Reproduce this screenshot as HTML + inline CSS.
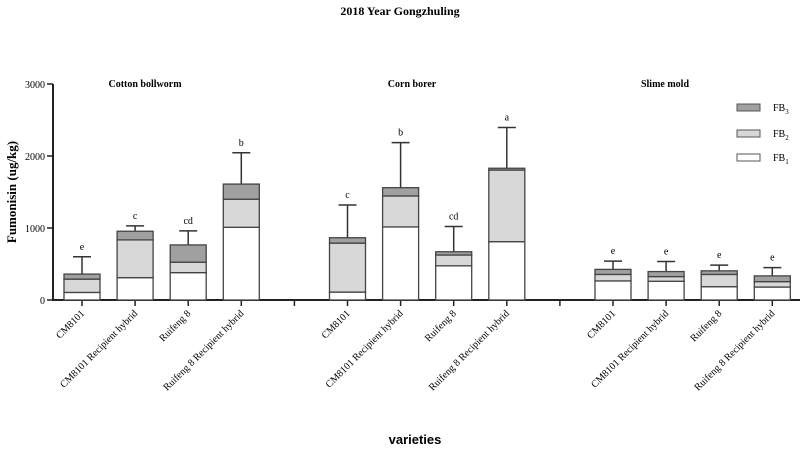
<!DOCTYPE html>
<html><head><meta charset="utf-8"><style>
body{margin:0;background:#fff;}
svg text{font-family:"Liberation Serif",serif;}
</style></head><body>
<svg width="800" height="451" viewBox="0 0 800 451" id="chart">
<text x="400" y="15" text-anchor="middle" font-weight="bold" font-size="12">2018 Year Gongzhuling</text>
<text x="145" y="87" text-anchor="middle" font-weight="bold" font-size="10">Cotton bollworm</text>
<text x="412" y="87" text-anchor="middle" font-weight="bold" font-size="10">Corn borer</text>
<text x="665" y="87" text-anchor="middle" font-weight="bold" font-size="10">Slime mold</text>
<text transform="translate(16,192) rotate(-90)" text-anchor="middle" font-weight="bold" font-size="13">Fumonisin (ug/kg)</text>
<text x="415" y="444" text-anchor="middle" font-weight="bold" font-size="13" style="font-family:'Liberation Sans',sans-serif">varieties</text>
<g id="legend">
<rect x="737" y="104" width="23" height="7" fill="#a0a0a0" stroke="#555"/>
<text x="773" y="111" font-size="10">FB<tspan font-size="7" dy="3">3</tspan></text>
<rect x="737" y="130" width="23" height="7" fill="#d8d8d8" stroke="#555"/>
<text x="773" y="137" font-size="10">FB<tspan font-size="7" dy="3">2</tspan></text>
<rect x="737" y="154" width="23" height="7" fill="#fff" stroke="#555"/>
<text x="773" y="161" font-size="10">FB<tspan font-size="7" dy="3">1</tspan></text>
</g>
<g id="plot"></g>
</svg>
<script>
const categories=["CM8101","CM8101 Recipient hybrid","Ruifeng 8","Ruifeng 8 Recipient hybrid","","CM8101","CM8101 Recipient hybrid","Ruifeng 8","Ruifeng 8 Recipient hybrid","","CM8101","CM8101 Recipient hybrid","Ruifeng 8","Ruifeng 8 Recipient hybrid"];
const fb1=[105,310,380,1010,null,110,1015,475,810,null,265,260,185,180];
const fb2=[185,525,145,390,null,680,430,150,995,null,90,65,170,75];
const fb3=[70,120,240,210,null,75,115,45,25,null,70,70,50,80];
const errTop=[600,1030,960,2045,null,1320,2185,1020,2395,null,540,535,485,450];
const letters=["e","c","cd","b","","c","b","cd","a","","e","e","e","e"];
const yTicks=[0,1000,2000,3000];
const NS="http://www.w3.org/2000/svg";
const g=document.getElementById('plot');
const y0=300,yTopPx=84,yMax=3000;
function yS(v){return y0-(v/yMax)*(y0-yTopPx);}
function xS(i){return 82+i*53.1;}
function mk(t,a){const e=document.createElementNS(NS,t);for(const k in a)e.setAttribute(k,a[k]);g.appendChild(e);return e;}
let ax=mk('line',{x1:52,y1:y0,x2:800,y2:y0,stroke:'#222','stroke-width':2});


let ay=mk('line',{x1:53,y1:yTopPx,x2:53,y2:y0+1,stroke:'#222','stroke-width':2});


yTicks.forEach(v=>{
 const t=mk('line',{x1:47,y1:yS(v),x2:53,y2:yS(v),stroke:'#222','stroke-width':1.5});
 
 
 const l=mk('text',{x:45,y:yS(v)+4,'text-anchor':'end','font-size':10});
 l.textContent=v;
 
 
});
categories.forEach((c,i)=>{
 const x=xS(i);
 const tk=mk('line',{x1:x,y1:y0,x2:x,y2:y0+6,stroke:'#222','stroke-width':1.5});
 
 
 if(fb1[i]===null)return;
 const w=36;
 const s=[[0,fb1[i],'#fff','fb1'],[fb1[i],fb1[i]+fb2[i],'#d8d8d8','fb2'],[fb1[i]+fb2[i],fb1[i]+fb2[i]+fb3[i],'#a0a0a0','fb3']];
 const tot=fb1[i]+fb2[i]+fb3[i];
 const eb=mk('line',{x1:x,y1:yS(tot),x2:x,y2:yS(errTop[i]),stroke:'#333','stroke-width':1.5});
 
 
 const ec=mk('line',{x1:x-9,y1:yS(errTop[i]),x2:x+9,y2:yS(errTop[i]),stroke:'#333','stroke-width':1.5});
 
 
 s.forEach(([a,b,f,n])=>{
  const r=mk('rect',{x:x-w/2,y:yS(b),width:w,height:yS(a)-yS(b),fill:f,stroke:'#444','stroke-width':1.3});
  
  
 });
 const lt=mk('text',{x:x,y:yS(errTop[i])-7,'text-anchor':'middle','font-size':10});
 lt.textContent=letters[i];
 
 
 const xl=mk('text',{transform:`translate(${x+3},${y0+14}) rotate(-45)`,'text-anchor':'end','font-size':10});
 xl.textContent=c;
 
 
});
</script>
</body></html>
